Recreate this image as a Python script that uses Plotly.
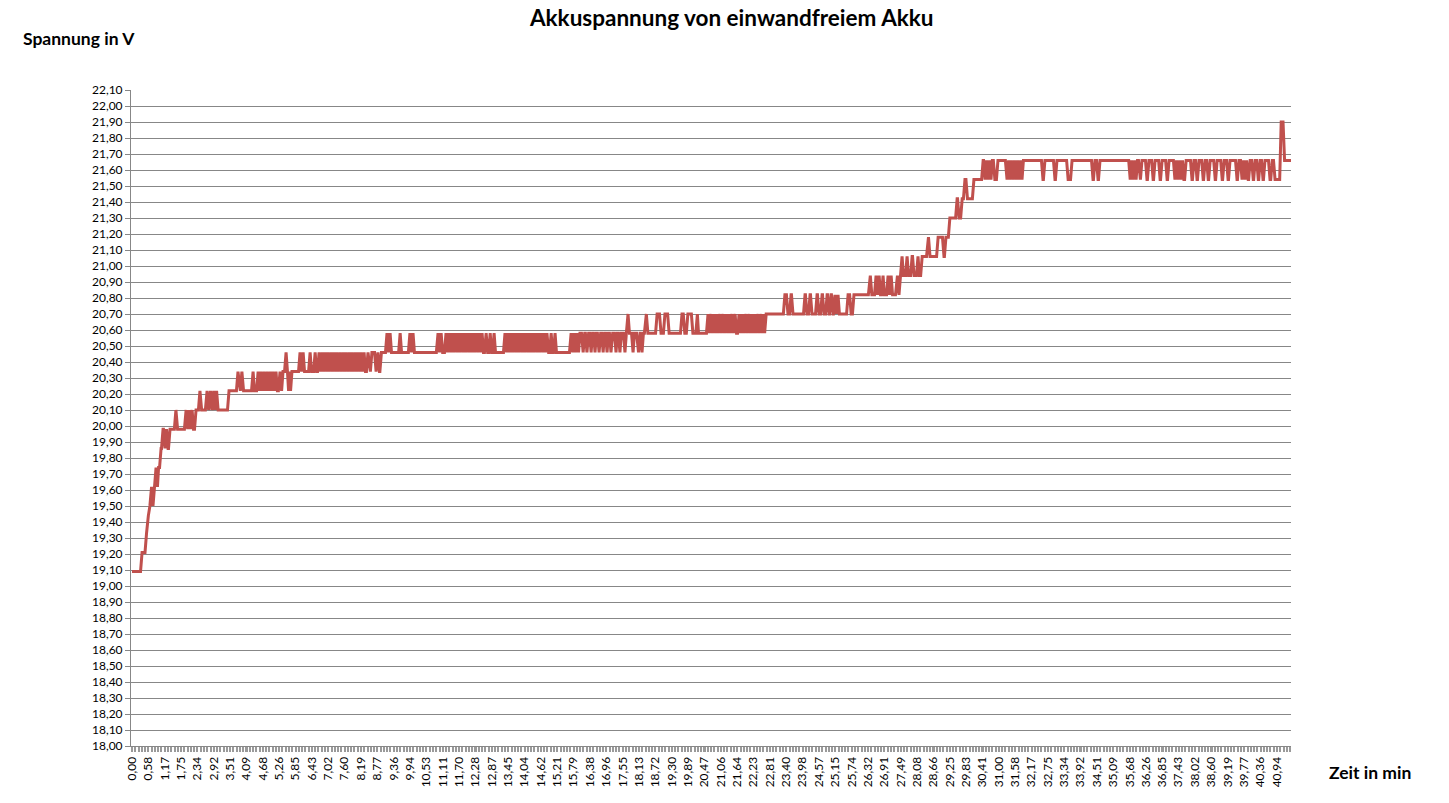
import plotly.graph_objects as go

# Messwerte als Stufen: Zeitpunkt (min), ab dem der jeweilige Spannungswert (V) gilt
zeit_min = [
    0.00, 0.36, 0.52, 0.57, 0.64, 0.70, 0.75, 0.79, 0.86, 0.91,
    0.95, 1.04, 1.11, 1.18, 1.23, 1.29, 1.36, 1.57, 1.63, 1.93,
    1.99, 2.04, 2.09, 2.15, 2.20, 2.29, 2.43, 2.49, 2.68, 2.74,
    2.79, 2.86, 2.92, 2.97, 3.02, 3.08, 3.47, 3.79, 3.85, 3.93,
    3.99, 4.33, 4.38, 4.51, 4.56, 4.61, 4.67, 4.72, 4.78, 4.83,
    4.88, 4.94, 4.99, 5.04, 5.10, 5.15, 5.20, 5.29, 5.35, 5.40,
    5.51, 5.56, 5.60, 5.63, 5.67, 5.72, 6.01, 6.06, 6.12, 6.17,
    6.37, 6.42, 6.55, 6.60, 6.69, 6.74, 6.80, 6.85, 6.90, 6.96,
    7.01, 7.06, 7.12, 7.17, 7.22, 7.28, 7.33, 7.38, 7.44, 7.49,
    7.55, 7.60, 7.65, 7.71, 7.76, 7.82, 7.87, 7.92, 7.98, 8.03,
    8.08, 8.14, 8.19, 8.24, 8.30, 8.35, 8.44, 8.50, 8.58, 8.73,
    8.78, 8.85, 8.92, 9.12, 9.17, 9.23, 9.28, 9.59, 9.64, 9.94,
    10.00, 10.05, 10.10, 10.94, 11.00, 11.05, 11.11, 11.23, 11.28, 11.34,
    11.39, 11.45, 11.50, 11.55, 11.61, 11.66, 11.71, 11.77, 11.82, 11.88,
    11.93, 11.98, 12.04, 12.09, 12.14, 12.20, 12.25, 12.30, 12.36, 12.41,
    12.47, 12.52, 12.57, 12.66, 12.72, 12.81, 12.86, 12.95, 13.00, 13.34,
    13.40, 13.45, 13.50, 13.56, 13.61, 13.66, 13.72, 13.77, 13.82, 13.88,
    13.93, 13.99, 14.04, 14.09, 14.15, 14.20, 14.25, 14.31, 14.36, 14.41,
    14.47, 14.52, 14.57, 14.63, 14.68, 14.74, 14.79, 14.84, 14.90, 14.99,
    15.04, 15.13, 15.18, 15.70, 15.76, 15.81, 15.86, 15.92, 15.97, 16.02,
    16.13, 16.19, 16.27, 16.33, 16.42, 16.47, 16.56, 16.61, 16.70, 16.76,
    16.85, 16.90, 16.99, 17.04, 17.13, 17.19, 17.31, 17.36, 17.45, 17.50,
    17.63, 17.68, 17.74, 17.79, 17.92, 17.97, 18.10, 18.17, 18.24, 18.29,
    18.38, 18.45, 18.78, 18.92, 19.06, 19.21, 19.67, 19.77, 19.88, 20.06,
    20.22, 20.26, 20.60, 20.65, 20.71, 20.76, 20.81, 20.87, 20.92, 20.97,
    21.03, 21.08, 21.14, 21.19, 21.24, 21.30, 21.35, 21.40, 21.46, 21.51,
    21.57, 21.62, 21.71, 21.76, 21.82, 21.87, 21.92, 21.98, 22.03, 22.09,
    22.14, 22.19, 22.25, 22.30, 22.35, 22.41, 22.46, 22.52, 22.57, 22.62,
    22.68, 23.35, 23.46, 23.57, 23.64, 24.07, 24.14, 24.25, 24.32, 24.50,
    24.57, 24.68, 24.75, 24.86, 24.93, 25.00, 25.07, 25.14, 25.19, 25.25,
    25.30, 25.61, 25.72, 25.82, 26.39, 26.46, 26.61, 26.66, 26.72, 26.77,
    26.86, 26.91, 27.04, 27.09, 27.15, 27.20, 27.36, 27.43, 27.47, 27.54,
    27.59, 27.72, 27.77, 27.90, 27.97, 28.11, 28.16, 28.26, 28.47, 28.54,
    28.83, 29.04, 29.11, 29.25, 29.51, 29.58, 29.69, 29.79, 29.88, 30.11,
    30.44, 30.51, 30.56, 30.61, 30.67, 30.72, 30.77, 30.86, 30.97, 31.29,
    31.35, 31.40, 31.45, 31.51, 31.56, 31.62, 31.67, 31.72, 31.78, 31.83,
    31.88, 32.58, 32.65, 33.01, 33.08, 33.48, 33.62, 34.37, 34.44, 34.55,
    34.62, 35.70, 35.75, 35.80, 35.86, 35.91, 35.96, 36.05, 36.12, 36.30,
    36.37, 36.52, 36.59, 36.77, 36.84, 37.02, 37.09, 37.30, 37.35, 37.41,
    37.46, 37.52, 37.57, 37.62, 37.70, 37.91, 37.98, 38.09, 38.16, 38.31,
    38.38, 38.49, 38.56, 38.74, 38.81, 38.99, 39.06, 39.20, 39.27, 39.52,
    39.59, 39.70, 39.75, 39.81, 39.86, 39.92, 39.99, 40.10, 40.17, 40.28,
    40.35, 40.45, 40.52, 40.70, 40.78, 40.88, 41.10, 41.22, 41.45,
]

spannung_v = [
    19.09, 19.21, 19.33, 19.44, 19.50, 19.62, 19.50, 19.62, 19.74, 19.62,
    19.74, 19.86, 19.98, 19.86, 19.98, 19.86, 19.98, 20.10, 19.98, 20.10,
    19.98, 20.10, 19.98, 20.10, 19.98, 20.10, 20.22, 20.10, 20.22, 20.10,
    20.22, 20.10, 20.22, 20.10, 20.22, 20.10, 20.22, 20.34, 20.22, 20.34,
    20.22, 20.34, 20.22, 20.34, 20.22, 20.34, 20.22, 20.34, 20.22, 20.34,
    20.22, 20.34, 20.22, 20.34, 20.22, 20.34, 20.22, 20.34, 20.22, 20.34,
    20.46, 20.34, 20.22, 20.34, 20.22, 20.34, 20.46, 20.34, 20.46, 20.34,
    20.46, 20.34, 20.46, 20.34, 20.46, 20.34, 20.46, 20.34, 20.46, 20.34,
    20.46, 20.34, 20.46, 20.34, 20.46, 20.34, 20.46, 20.34, 20.46, 20.34,
    20.46, 20.34, 20.46, 20.34, 20.46, 20.34, 20.46, 20.34, 20.46, 20.34,
    20.46, 20.34, 20.46, 20.34, 20.46, 20.34, 20.46, 20.34, 20.46, 20.34,
    20.46, 20.34, 20.46, 20.58, 20.46, 20.58, 20.46, 20.58, 20.46, 20.58,
    20.46, 20.58, 20.46, 20.58, 20.46, 20.58, 20.46, 20.58, 20.46, 20.58,
    20.46, 20.58, 20.46, 20.58, 20.46, 20.58, 20.46, 20.58, 20.46, 20.58,
    20.46, 20.58, 20.46, 20.58, 20.46, 20.58, 20.46, 20.58, 20.46, 20.58,
    20.46, 20.58, 20.46, 20.58, 20.46, 20.58, 20.46, 20.58, 20.46, 20.58,
    20.46, 20.58, 20.46, 20.58, 20.46, 20.58, 20.46, 20.58, 20.46, 20.58,
    20.46, 20.58, 20.46, 20.58, 20.46, 20.58, 20.46, 20.58, 20.46, 20.58,
    20.46, 20.58, 20.46, 20.58, 20.46, 20.58, 20.46, 20.58, 20.46, 20.58,
    20.46, 20.58, 20.46, 20.58, 20.46, 20.58, 20.46, 20.58, 20.46, 20.58,
    20.46, 20.58, 20.46, 20.58, 20.46, 20.58, 20.46, 20.58, 20.46, 20.58,
    20.46, 20.58, 20.46, 20.58, 20.46, 20.58, 20.46, 20.58, 20.46, 20.58,
    20.46, 20.58, 20.70, 20.58, 20.46, 20.58, 20.46, 20.58, 20.46, 20.58,
    20.70, 20.58, 20.70, 20.58, 20.70, 20.58, 20.70, 20.58, 20.70, 20.58,
    20.70, 20.58, 20.70, 20.58, 20.70, 20.58, 20.70, 20.58, 20.70, 20.58,
    20.70, 20.58, 20.70, 20.58, 20.70, 20.58, 20.70, 20.58, 20.70, 20.58,
    20.70, 20.58, 20.70, 20.58, 20.70, 20.58, 20.70, 20.58, 20.70, 20.58,
    20.70, 20.58, 20.70, 20.58, 20.70, 20.58, 20.70, 20.58, 20.70, 20.58,
    20.70, 20.82, 20.70, 20.82, 20.70, 20.82, 20.70, 20.82, 20.70, 20.82,
    20.70, 20.82, 20.70, 20.82, 20.70, 20.82, 20.70, 20.82, 20.70, 20.82,
    20.70, 20.82, 20.70, 20.82, 20.94, 20.82, 20.94, 20.82, 20.94, 20.82,
    20.94, 20.82, 20.94, 20.82, 20.94, 20.82, 20.94, 20.82, 20.94, 21.06,
    20.94, 21.06, 20.94, 21.06, 20.94, 21.06, 20.94, 21.06, 21.18, 21.06,
    21.18, 21.06, 21.18, 21.30, 21.42, 21.30, 21.42, 21.54, 21.42, 21.54,
    21.66, 21.54, 21.66, 21.54, 21.66, 21.54, 21.66, 21.54, 21.66, 21.54,
    21.66, 21.54, 21.66, 21.54, 21.66, 21.54, 21.66, 21.54, 21.66, 21.54,
    21.66, 21.54, 21.66, 21.54, 21.66, 21.54, 21.66, 21.54, 21.66, 21.54,
    21.66, 21.54, 21.66, 21.54, 21.66, 21.54, 21.66, 21.54, 21.66, 21.54,
    21.66, 21.54, 21.66, 21.54, 21.66, 21.54, 21.66, 21.54, 21.66, 21.54,
    21.66, 21.54, 21.66, 21.54, 21.66, 21.54, 21.66, 21.54, 21.66, 21.54,
    21.66, 21.54, 21.66, 21.54, 21.66, 21.54, 21.66, 21.54, 21.66, 21.54,
    21.66, 21.54, 21.66, 21.54, 21.66, 21.54, 21.66, 21.54, 21.66, 21.54,
    21.66, 21.54, 21.66, 21.54, 21.66, 21.54, 21.90, 21.66, 21.66,
]

# Beschriftung der Zeitachse (wie im Original, mit Dezimalkomma)
zeit_labels = [
    "0,00", "0,58", "1,17", "1,75", "2,34", "2,92", "3,51", "4,09", "4,68", "5,26",
    "5,85", "6,43", "7,02", "7,60", "8,19", "8,77", "9,36", "9,94", "10,53", "11,11",
    "11,70", "12,28", "12,87", "13,45", "14,04", "14,62", "15,21", "15,79", "16,38", "16,96",
    "17,55", "18,13", "18,72", "19,30", "19,89", "20,47", "21,06", "21,64", "22,23", "22,81",
    "23,40", "23,98", "24,57", "25,15", "25,74", "26,32", "26,91", "27,49", "28,08", "28,66",
    "29,25", "29,83", "30,41", "31,00", "31,58", "32,17", "32,75", "33,34", "33,92", "34,51",
    "35,09", "35,68", "36,26", "36,85", "37,43", "38,02", "38,60", "39,19", "39,77", "40,36",
    "40,94",
]
zeit_ticks = [float(s.replace(",", ".")) for s in zeit_labels]

# Excel verbindet die Messpunkte mit geraden Linien: Wechsel auf den neuen Wert
# erfolgt innerhalb eines Messintervalls
MESSINTERVALL = 0.055
linie_x, linie_y = [], []
for i, (t, u) in enumerate(zip(zeit_min, spannung_v)):
    linie_x.append(t)
    linie_y.append(u)
    if i + 1 < len(zeit_min) and zeit_min[i + 1] - t > MESSINTERVALL:
        linie_x.append(zeit_min[i + 1] - MESSINTERVALL)
        linie_y.append(u)

FONT = "Lato, Noto Sans, sans-serif"
GRAU = "#878787"

fig = go.Figure()
fig.add_trace(
    go.Scatter(
        x=linie_x,
        y=linie_y,
        mode="lines",
        line=dict(color="#C0504D", width=3),
        showlegend=False,
    )
)

fig.update_layout(
    width=1449,
    height=803,
    margin=dict(l=131, r=158, t=90, b=57),
    paper_bgcolor="white",
    plot_bgcolor="white",
    separators=",.",
    font=dict(family=FONT, size=12, color="#000000"),
    title=dict(
        text="<b>Akkuspannung von einwandfreiem Akku</b>",
        x=0.505,
        xref="container",
        xanchor="center",
        y=0.977,
        yref="container",
        yanchor="middle",
        font=dict(family=FONT, size=22.5, color="#000000"),
    ),
    xaxis=dict(
        range=[-0.036, 41.45],
        tickmode="array",
        tickvals=zeit_ticks,
        ticktext=zeit_labels,
        tickangle=-90,
        showgrid=False,
        zeroline=False,
        showline=True,
        linecolor=GRAU,
        linewidth=1,
        ticks="outside",
        ticklen=5,
        tickcolor="#9a9a9a",
        tickwidth=2,
        minor=dict(ticks="outside", ticklen=5, tickcolor="#9a9a9a", tickwidth=2, tick0=0, dtick=0.117),
        tickfont=dict(family=FONT, size=12, color="#000000"),
        automargin=False,
    ),
    yaxis=dict(
        range=[18.0, 22.1],
        tick0=18.0,
        dtick=0.1,
        tickformat=".2f",
        showgrid=True,
        gridcolor=GRAU,
        gridwidth=1,
        zeroline=False,
        showline=True,
        linecolor=GRAU,
        linewidth=1,
        ticks="outside",
        ticklen=5,
        tickcolor=GRAU,
        tickfont=dict(family=FONT, size=12, color="#000000"),
        automargin=False,
    ),
    annotations=[
        dict(
            text="<b>Spannung in V</b>",
            xref="paper", yref="paper",
            x=-0.095, y=1.079,
            xanchor="left", yanchor="middle",
            showarrow=False,
            font=dict(family=FONT, size=17.5, color="#000000"),
        ),
        dict(
            text="<b>Zeit in min</b>",
            xref="paper", yref="paper",
            x=1.031, y=-0.041,
            xanchor="left", yanchor="middle",
            showarrow=False,
            font=dict(family=FONT, size=17.5, color="#000000"),
        ),
    ],
)

# Seitenrand entfernen, damit die Grafik genau das Fenster füllt
fig.write_html(
    "out.html",
    config={"displayModeBar": False},
    post_script="document.body.style.margin = '0';",
)
